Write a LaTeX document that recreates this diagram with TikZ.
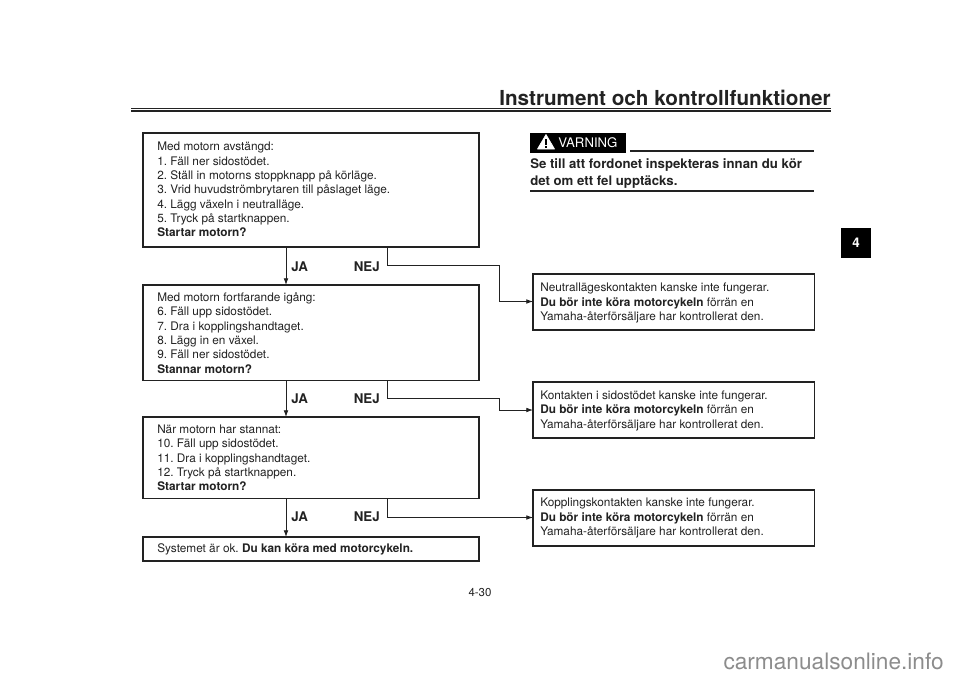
\documentclass[tikz,border=0pt]{standalone}
\usepackage{fontspec}
\setmainfont{TeX Gyre Heros}
\usetikzlibrary{arrows.meta}
\definecolor{ink}{HTML}{222222}
\tikzset{
 x=0.75pt,y=-0.75pt,
 box/.style={draw=ink,line width=1pt,fill=white,inner sep=0pt,outer sep=0pt,anchor=north west},
 txt/.style={anchor=north west,inner sep=0pt,align=left,text=ink,font=\fontsize{8.85pt}{10.75pt}\selectfont\frenchspacing},
 lab/.style={inner sep=0pt,text=ink,font=\fontsize{10pt}{12pt}\selectfont\bfseries},
 conn/.style={draw=ink,line width=0.6pt,-{Latex[length=5pt,width=3.5pt]}},
 rulel/.style={draw=ink,line width=1pt}
}
\begin{document}
\begin{tikzpicture}
\useasboundingbox (0,0) rectangle (960,679);
% header
\node[anchor=base east,inner sep=0pt,text=ink,font=\fontsize{15.5pt}{18pt}\selectfont\bfseries] (title) at (831,105) {Instrument och kontrollfunktioner};
\coordinate (rl) at (131,108.5); \coordinate (rr) at (831,108.5);
\coordinate (sl) at (131,111); \coordinate (sr) at (831,111);
\draw[draw=ink,line width=0.6pt] (rl) -- (rr);
\draw[draw=ink,line width=1.4pt] (sl) -- (sr);
% tab
\node[fill=black,text=white,minimum width=22.5pt,minimum height=22.5pt,inner sep=0pt,font=\fontsize{10pt}{12pt}\selectfont\bfseries] (tab) at (856,243) {4};
% left boxes
\node[box,minimum width=252pt,minimum height=85.5pt] (b1) at (143,133) {};
\node[txt] (t1) at (157,142) {Med motorn avstängd:\\1. Fäll ner sidostödet.\\2. Ställ in motorns stoppknapp på körläge.\\3. Vrid huvudströmbrytaren till påslaget läge.\\4. Lägg växeln i neutralläge.\\5. Tryck på startknappen.\\\textbf{Startar motorn?}};
\node[box,minimum width=252pt,minimum height=71.5pt] (b2) at (143,285) {};
\node[txt] (t2) at (157,292.5) {Med motorn fortfarande igång:\\6. Fäll upp sidostödet.\\7. Dra i kopplingshandtaget.\\8. Lägg in en växel.\\9. Fäll ner sidostödet.\\\textbf{Stannar motorn?}};
\node[box,minimum width=252pt,minimum height=61pt] (b3) at (143,417) {};
\node[txt] (t3) at (157,424.5) {När motorn har stannat:\\10. Fäll upp sidostödet.\\11. Dra i kopplingshandtaget.\\12. Tryck på startknappen.\\\textbf{Startar motorn?}};
\node[box,minimum width=252pt,minimum height=18pt] (b4) at (143,537) {};
\node[txt] (t4) at (157,543) {Systemet är ok. \textbf{Du kan köra med motorcykeln.}};
% right boxes
\node[box,minimum width=211pt,minimum height=42pt] (r1) at (533,274) {};
\node[txt] (x1) at (540,283) {Neutrallägeskontakten kanske inte fungerar.\\\textbf{Du bör inte köra motorcykeln} förrän en\\Yamaha-återförsäljare har kontrollerat den.};
\node[box,minimum width=211pt,minimum height=42pt] (r2) at (533,382) {};
\node[txt] (x2) at (540,390.5) {Kontakten i sidostödet kanske inte fungerar.\\\textbf{Du bör inte köra motorcykeln} förrän en\\Yamaha-återförsäljare har kontrollerat den.};
\node[box,minimum width=211pt,minimum height=42pt] (r3) at (533,490) {};
\node[txt] (x3) at (540,498) {Kopplingskontakten kanske inte fungerar.\\\textbf{Du bör inte köra motorcykeln} förrän en\\Yamaha-återförsäljare har kontrollerat den.};
% labels
\node[lab,anchor=west] (ja1) at (291,266.5) {JA};
\node[lab,anchor=east] (ne1) at (380,266.5) {NEJ};
\node[lab,anchor=west] (ja2) at (291,398.5) {JA};
\node[lab,anchor=east] (ne2) at (380,398.5) {NEJ};
\node[lab,anchor=west] (ja3) at (291,517) {JA};
\node[lab,anchor=east] (ne3) at (380,517) {NEJ};
% connectors
\coordinate (ax) at (286,0);
\coordinate (nx) at (387,0);
\draw[conn] (b1.south -| ax) -- (b2.north -| ax);
\draw[conn] (b2.south -| ax) -- (b3.north -| ax);
\draw[conn] (b3.south -| ax) -- (b4.north -| ax);
\coordinate (k1) at (387,265.5); \coordinate (k2) at (499,265.5); \coordinate (k3) at (499,301.5);
\draw[conn] (b1.south -| nx) -- (k1) -- (k2) -- (k3) -- (r1.west |- k3);
\coordinate (m1) at (387,398.5); \coordinate (m2) at (499,398.5); \coordinate (m3) at (499,410);
\draw[conn] (b2.south -| nx) -- (m1) -- (m2) -- (m3) -- (r2.west |- m3);
\coordinate (q1) at (387,517.5);
\draw[conn] (b3.south -| nx) -- (q1) -- (r3.west |- q1);
% warning
\node[fill=black,minimum width=71.5pt,minimum height=14.5pt,inner sep=0pt,anchor=north west] (vb) at (530,133) {};
\fill[white,line join=round,draw=white,line width=0.5pt] (537.5,149) -- (546,134.5) -- (554.5,149) -- cycle;
\fill[black] (545,139) rectangle (547,145);
\fill[black] (545,146) rectangle (547,148);
\node[anchor=base west,inner sep=0pt,text=white,font=\fontsize{9.9pt}{11pt}\selectfont] (vt) at (558,147.5) {VARNING};
\coordinate (w1) at (630,151); \coordinate (w2) at (814,151);
\draw[rulel] (w1) -- (w2);
\node[txt,font=\fontsize{9.9pt}{12.75pt}\selectfont\bfseries\frenchspacing] (wt) at (530,158) {Se till att fordonet inspekteras innan du kör\\det om ett fel upptäcks.};
\coordinate (w3) at (530,191); \coordinate (w4) at (814,191);
\draw[rulel] (w3) -- (w4);
% page number
\node[inner sep=0pt,text=ink,font=\fontsize{8.6pt}{10pt}\selectfont] (pg) at (480,592.5) {4-30};
% watermark
\node[anchor=base east,inner sep=0pt,text=black!45,font=\fontsize{17pt}{20pt}\selectfont] (wm) at (944,669) {carmanualsonline.info};
\end{tikzpicture}
\end{document}
